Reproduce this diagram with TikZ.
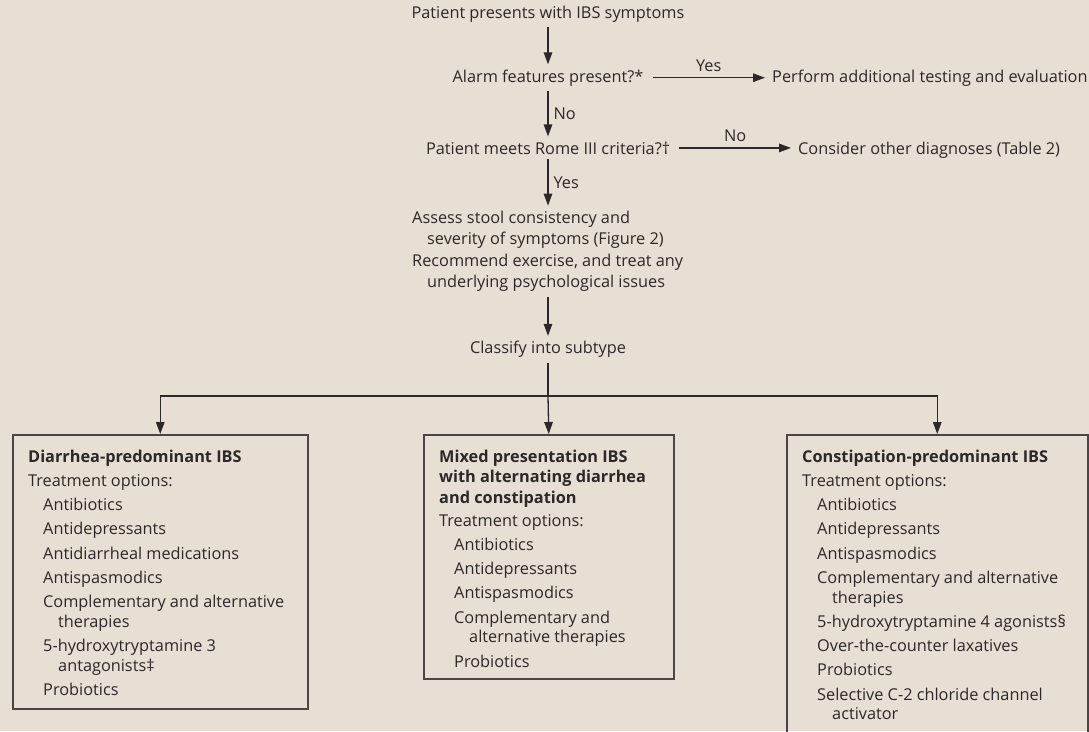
\documentclass[tikz,border=0pt]{standalone}
\usepackage{fontspec}
\setmainfont{Open Sans}
\usetikzlibrary{arrows.meta}
\definecolor{paper}{HTML}{E8DFD4}
\definecolor{ink}{HTML}{2A2828}
\definecolor{frame}{HTML}{4A4646}
\newcommand{\flowfont}{\fontsize{16.3}{21}\selectfont}
\newcommand{\boxfont}{\fontsize{16.3}{19.5}\selectfont}
\newcommand{\itemind}{\hspace*{15pt}}
\newcommand{\gap}{4.8pt}

\begin{document}
\begin{tikzpicture}[x=1pt,y=-1pt,
  flowtext/.style={text=ink,font=\flowfont,inner xsep=0pt,inner ysep=5pt},
  answer/.style={text=ink,font=\flowfont,inner sep=2pt},
  flow/.style={draw=ink,line width=1.3pt,-{Triangle[length=12pt,width=8.5pt]}},
  wire/.style={draw=ink,line width=1.3pt},
  panel/.style={draw=frame,line width=1.5pt,inner sep=0pt,anchor=north west},
  paneltext/.style={text=ink,font=\boxfont,inner sep=0pt,align=left,anchor=north west}]

\path[use as bounding box,clip] (0,0) rectangle (1089,731);
\fill[paper] (0,0) rectangle (1089,731);

% main decision chain
\node[flowtext,anchor=base] (start) at (548,18) {Patient presents with IBS symptoms};
\node[flowtext,anchor=base] (alarm) at (548,82) {Alarm features present?*};
\node[flowtext,anchor=base west] (testing) at (772,82) {Perform additional testing and evaluation};
\node[flowtext,anchor=base] (rome) at (548,154) {Patient meets Rome III criteria?†};
\node[flowtext,anchor=base west] (other) at (798,154) {Consider other diagnoses (Table 2)};
\node[flowtext,anchor=north west,align=left] (assess) at (412,205.6)
  {Assess stool consistency and\\\itemind severity of symptoms (Figure 2)\\[1.5pt]Recommend exercise, and treat any\\\itemind underlying psychological issues};
\node[flowtext,anchor=base] (classify) at (548,353.5) {Classify into subtype};

% subtype panels
\node[panel,minimum width=295pt,minimum height=274pt] (lbox) at (12,434) {};
\node[panel,minimum width=250pt,minimum height=244pt] (mbox) at (423,434) {};
\node[panel,minimum width=301pt,minimum height=330pt] (rbox) at (786,434) {};

\node[paneltext] (ltext) at ([xshift=16pt,yshift=-15.5pt]lbox.north west)
  {\textbf{Diarrhea-predominant IBS}\\[\gap]
   Treatment options:\\[\gap]
   \itemind Antibiotics\\[\gap]
   \itemind Antidepressants\\[\gap]
   \itemind Antidiarrheal medications\\[\gap]
   \itemind Antispasmodics\\[\gap]
   \itemind Complementary and alternative\\
   \itemind\itemind therapies\\[\gap]
   \itemind 5-hydroxytryptamine 3\\
   \itemind\itemind antagonists‡\\[\gap]
   \itemind Probiotics};

\node[paneltext] (mtext) at ([xshift=16pt,yshift=-15.5pt]mbox.north west)
  {\textbf{Mixed presentation IBS}\\[1pt]
   \textbf{with alternating diarrhea}\\[1pt]
   \textbf{and constipation}\\[3.5pt]
   Treatment options:\\[\gap]
   \itemind Antibiotics\\[\gap]
   \itemind Antidepressants\\[\gap]
   \itemind Antispasmodics\\[\gap]
   \itemind Complementary and\\
   \itemind\itemind alternative therapies\\[\gap]
   \itemind Probiotics};

\node[paneltext] (rtext) at ([xshift=16pt,yshift=-15.5pt]rbox.north west)
  {\textbf{Constipation-predominant IBS}\\[\gap]
   Treatment options:\\[\gap]
   \itemind Antibiotics\\[\gap]
   \itemind Antidepressants\\[\gap]
   \itemind Antispasmodics\\[\gap]
   \itemind Complementary and alternative\\
   \itemind\itemind therapies\\[\gap]
   \itemind 5-hydroxytryptamine 4 agonists§\\[\gap]
   \itemind Over-the-counter laxatives\\[\gap]
   \itemind Probiotics\\[\gap]
   \itemind Selective C-2 chloride channel\\
   \itemind\itemind activator};

% connectors
\draw[flow] (start.south) -- (alarm.north);
\draw[flow] ([xshift=9pt]alarm.east) -- ([xshift=-7pt]alarm.east -| testing.west)
  node[answer,midway,anchor=base,yshift=6pt] {Yes};
\draw[flow] (alarm.south) -- (rome.north)
  node[answer,midway,anchor=west,xshift=3pt] {No};
\draw[flow] ([xshift=9pt]rome.east) -- ([xshift=-7pt]rome.east -| other.west)
  node[answer,midway,anchor=base,yshift=6pt] {No};
\draw[flow] (rome.south) -- (rome.south |- assess.north)
  node[answer,midway,anchor=west,xshift=3pt] {Yes};
\draw[flow] (rome.south |- assess.south) -- (classify.north);
\coordinate (split) at (548,396);
\draw[wire] (classify.south) -- (split);
\draw[flow] (split) -- (mbox.north);
\draw[flow] (split) -| (lbox.north);
\draw[flow] (split) -| (rbox.north);
\end{tikzpicture}
\end{document}
